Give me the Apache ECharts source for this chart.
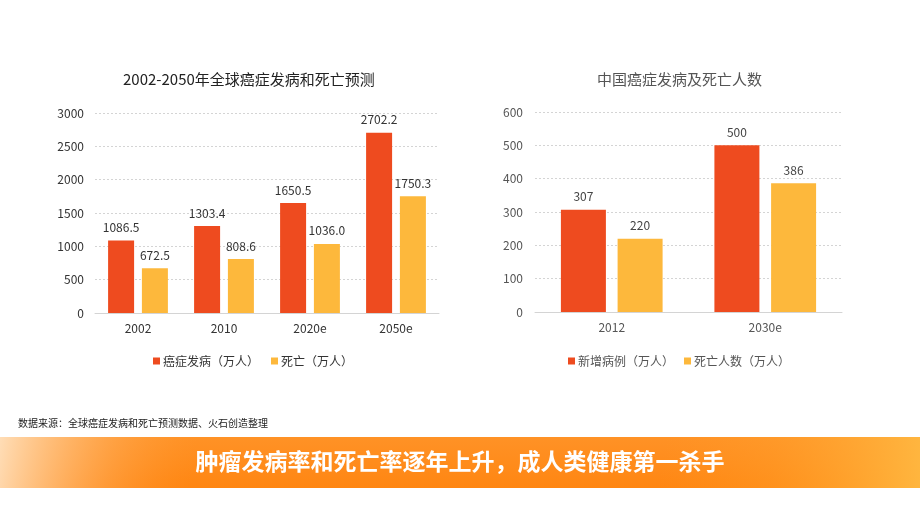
<!DOCTYPE html>
<html><head><meta charset="utf-8">
<script src="https://cdn.jsdelivr.net/npm/echarts@6/dist/echarts.min.js"></script>
<style>html,body{margin:0;padding:0;background:#fff}#c{width:920px;height:518px}</style>
</head><body><div id="c"></div>
<script>
const leftCategories = ['2002', '2010', '2020e', '2050e'];
const leftIncidence = [1086.5, 1303.4, 1650.5, 2702.2];
const leftDeaths = [672.5, 808.6, 1036.0, 1750.3];
const rightCategories = ['2012', '2030e'];
const rightNewCases = [307, 500];
const rightDeaths = [220, 386];

const FONT = '"Noto Sans CJK SC", "Open Sans", sans-serif';
const RED = '#EE4B1F';
const YEL = '#FDB83C';

const chart = echarts.init(document.getElementById('c'), null, {renderer: 'canvas'});
const splitLine = {show: true, lineStyle: {color: '#d4d4d4', type: [2, 2], width: 1}};
const axisLab = {color: '#333', fontSize: 12, fontFamily: FONT, formatter: v => String(v)};

chart.setOption({
  animation: false,
  textStyle: {fontFamily: FONT},
  title: [
    {text: '2002-2050年全球癌症发病和死亡预测', left: 118, top: 67, textStyle: {fontSize: 15, fontWeight: 'normal', color: '#222', fontFamily: FONT}},
    {text: '中国癌症发病及死亡人数', left: 592, top: 67, textStyle: {fontSize: 15, fontWeight: 'normal', color: '#555', fontFamily: FONT}}
  ],
  legend: [
    {left: 148, top: 350, itemWidth: 7, itemHeight: 7, itemGap: 12, icon: 'rect',
     textStyle: {fontSize: 12, color: '#333', fontFamily: FONT, padding: [0, 0, 0, -2]},
     data: ['癌症发病（万人）', '死亡（万人）']},
    {left: 563, top: 350, itemWidth: 7, itemHeight: 7, itemGap: 10, icon: 'rect',
     textStyle: {fontSize: 12, color: '#555', fontFamily: FONT, padding: [0, 0, 0, -2]},
     data: ['新增病例（万人）', '死亡人数（万人）']}
  ],
  grid: [
    {left: 95, right: 481, top: 113, bottom: 205},
    {left: 535, right: 78, top: 112, bottom: 206}
  ],
  xAxis: [
    {type: 'category', gridIndex: 0, data: leftCategories,
     axisLine: {lineStyle: {color: '#d4d4d4'}}, axisTick: {show: false},
     axisLabel: {margin: 9, color: '#333', fontSize: 12, fontFamily: FONT}},
    {type: 'category', gridIndex: 1, data: rightCategories,
     axisLine: {lineStyle: {color: '#d4d4d4'}}, axisTick: {show: false},
     axisLabel: {margin: 9, color: '#555', fontSize: 12, fontFamily: FONT}}
  ],
  yAxis: [
    {type: 'value', gridIndex: 0, min: 0, max: 3000, interval: 500,
     axisLine: {show: false}, axisTick: {show: false}, splitLine: splitLine,
     axisLabel: Object.assign({margin: 11}, axisLab)},
    {type: 'value', gridIndex: 1, min: 0, max: 600, interval: 100,
     axisLine: {show: false}, axisTick: {show: false}, splitLine: splitLine,
     axisLabel: Object.assign({margin: 12}, axisLab, {color: '#555'})}
  ],
  series: [
    {name: '癌症发病（万人）', type: 'bar', xAxisIndex: 0, yAxisIndex: 0, data: leftIncidence,
     barWidth: 26, barGap: '30%', itemStyle: {color: RED},
     label: {show: true, position: 'top', distance: 7, color: '#333', fontSize: 12, fontFamily: FONT,
             formatter: p => p.value.toFixed(1)}},
    {name: '死亡（万人）', type: 'bar', xAxisIndex: 0, yAxisIndex: 0, data: leftDeaths,
     barWidth: 26, barGap: '30%', itemStyle: {color: YEL},
     label: {show: true, position: 'top', distance: 7, color: '#333', fontSize: 12, fontFamily: FONT,
             formatter: p => p.value.toFixed(1)}},
    {name: '新增病例（万人）', type: 'bar', xAxisIndex: 1, yAxisIndex: 1, data: rightNewCases,
     barWidth: 45, barGap: '26%', itemStyle: {color: RED},
     label: {show: true, position: 'top', distance: 7, color: '#444', fontSize: 12, fontFamily: FONT}},
    {name: '死亡人数（万人）', type: 'bar', xAxisIndex: 1, yAxisIndex: 1, data: rightDeaths,
     barWidth: 45, barGap: '26%', itemStyle: {color: YEL},
     label: {show: true, position: 'top', distance: 7, color: '#444', fontSize: 12, fontFamily: FONT}}
  ],
  graphic: [
    {type: 'text', left: 18, top: 418, style: {text: '数据来源：全球癌症发病和死亡预测数据、火石创造整理', fontSize: 10, fill: '#222', fontFamily: FONT}},
    {type: 'rect', left: 0, top: 437, shape: {width: 920, height: 51}, z: 0,
     style: {fill: new echarts.graphic.LinearGradient(0, 0, 0, 1, [
       {offset: 0, color: '#FF9226'}, {offset: 1, color: '#FF8612'}])}},
    {type: 'rect', left: 0, top: 437, shape: {width: 920, height: 51}, z: 1,
     style: {fill: new echarts.graphic.LinearGradient(0, 0, 0.35, 1, [
       {offset: 0, color: 'rgba(255,225,190,0.95)'}, {offset: 0.35, color: 'rgba(255,190,120,0.35)'},
       {offset: 0.6, color: 'rgba(255,160,60,0)'}, {offset: 1, color: 'rgba(255,160,60,0)'}])}},
    {type: 'rect', left: 0, top: 437, shape: {width: 920, height: 51}, z: 1,
     style: {fill: new echarts.graphic.LinearGradient(1, 1, 0.6, 0, [
       {offset: 0, color: 'rgba(255,190,70,0.85)'}, {offset: 0.4, color: 'rgba(255,170,50,0.3)'},
       {offset: 0.7, color: 'rgba(255,160,40,0)'}, {offset: 1, color: 'rgba(255,160,40,0)'}])}},
    {type: 'text', left: 'center', top: 450, z: 2,
     style: {text: '肿瘤发病率和死亡率逐年上升，成人类健康第一杀手', fontSize: 23, fontWeight: 'bold', fill: '#fff', fontFamily: FONT}}
  ]
});
</script></body></html>
